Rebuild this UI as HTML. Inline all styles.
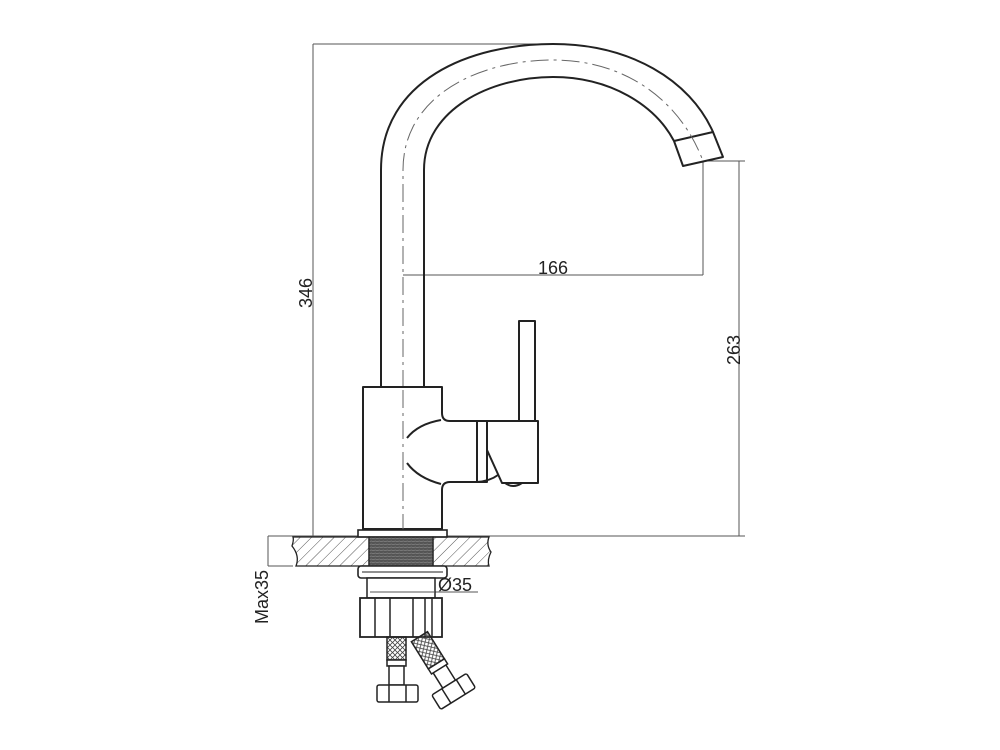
<!DOCTYPE html>
<html><head><meta charset="utf-8"><style>
html,body{margin:0;padding:0;background:#fff;}
svg{display:block;}
text{font-family:"Liberation Sans",Arial,sans-serif;fill:#222;}
</style></head><body>
<svg width="1000" height="750" viewBox="0 0 1000 750" xmlns="http://www.w3.org/2000/svg">
<defs>
<pattern id="hatch" width="8" height="8" patternUnits="userSpaceOnUse" patternTransform="rotate(45)">
<line x1="0" y1="0" x2="0" y2="8" stroke="#555" stroke-width="1"/>
</pattern>
<pattern id="braid" width="5" height="5" patternUnits="userSpaceOnUse">
<path d="M0,0 L2.5,2.5 L5,0 M0,5 L2.5,2.5 L5,5" stroke="#444" stroke-width="0.8" fill="none"/>
</pattern>
<pattern id="thread" width="4" height="3" patternUnits="userSpaceOnUse">
<rect width="4" height="3" fill="#555"/>
<line x1="0" y1="1.5" x2="4" y2="1" stroke="#999" stroke-width="0.6"/>
</pattern>
</defs>

<g stroke="#555" stroke-width="1" fill="none">
<line x1="313" y1="44" x2="553" y2="44"/>
<line x1="313" y1="44" x2="313" y2="536"/>
<line x1="268" y1="536" x2="745" y2="536"/>
<line x1="703" y1="161" x2="745" y2="161"/>
<line x1="739" y1="161" x2="739" y2="536"/>
<line x1="703" y1="161" x2="703" y2="275"/>
<line x1="403" y1="275" x2="703" y2="275"/>
<line x1="268" y1="536" x2="268" y2="566"/>
<line x1="268" y1="566" x2="293" y2="566"/>
<line x1="370" y1="592" x2="478" y2="592"/>
</g>
<text x="553" y="274" font-size="18" text-anchor="middle">166</text>
<text transform="translate(312,293) rotate(-90)" font-size="18" text-anchor="middle">346</text>
<text transform="translate(740,350) rotate(-90)" font-size="18" text-anchor="middle">263</text>
<text transform="translate(268,597) rotate(-90)" font-size="18" text-anchor="middle">Max35</text>
<text x="438" y="591" font-size="18">Ø35</text>

<g stroke="#222" stroke-width="2" fill="none" stroke-linejoin="round">
<path d="M381,388 L381,170 C381,80 470,44 553,44 C630,44 690,80 713,132"/>
<path d="M424,388 L424,170 C424,110 490,77 553,77 C610,77 655,105 674,141"/>
<path d="M674,141 L713,132 L723,157 L683,166 Z" fill="#fff"/>
</g>
<path d="M403,388 L403,170 C403,95 480,60 553,60 C625,60 680,100 703,161" stroke="#666" stroke-width="1" fill="none" stroke-dasharray="18,5,3,5"/>

<g stroke="#222" stroke-width="2" fill="#fff" stroke-linejoin="round">
<path d="M363,387 L442,387 L442,413 Q442,421 450,421 L477,421 L477,482 L450,482 Q442,482 442,490 L442,529 L363,529 Z"/>
<rect x="477" y="421" width="10" height="61"/>
<path d="M487,421 L538,421 L538,483 L502,483 L487,450 Z"/>
<rect x="519" y="321" width="16" height="100"/>
<path d="M505,483 Q513,489 522,483" fill="none"/>
<path d="M407,438 Q418,424 441,420" fill="none"/>
<path d="M407,463 Q418,478 441,484" fill="none"/>
<path d="M477,482 Q490,481 498,475" fill="none"/>
</g>
<line x1="403" y1="390" x2="403" y2="545" stroke="#666" stroke-width="1" stroke-dasharray="18,5,3,5"/>

<rect x="358" y="530" width="89" height="7" fill="#fff" stroke="#222" stroke-width="1.6"/>
<path d="M293,537 L369,537 L369,566 L296,566 Q300,556 292,546 Q294,540 293,537 Z" fill="url(#hatch)" stroke="#222" stroke-width="1.3"/>
<path d="M433,537 L489,537 Q486,545 491,552 Q487,560 489,566 L433,566 Z" fill="url(#hatch)" stroke="#222" stroke-width="1.3"/>
<rect x="369" y="537" width="64" height="29" fill="url(#thread)" stroke="#222" stroke-width="1.3"/>
<rect x="358" y="566" width="89" height="12" rx="3" fill="#fff" stroke="#222" stroke-width="1.6"/>
<line x1="362" y1="572" x2="443" y2="572" stroke="#222" stroke-width="1"/>
<rect x="367" y="578" width="68" height="20" fill="#fff" stroke="#222" stroke-width="1.5"/>
<line x1="370" y1="592" x2="435" y2="592" stroke="#555" stroke-width="1"/>
<rect x="360" y="598" width="82" height="39" fill="#fff" stroke="#222" stroke-width="1.8"/>
<g stroke="#222" stroke-width="1.5">
<line x1="375" y1="598" x2="375" y2="637"/>
<line x1="390" y1="598" x2="390" y2="637"/>
<line x1="413" y1="598" x2="413" y2="637"/>
<line x1="425" y1="598" x2="425" y2="637"/>
<line x1="432" y1="598" x2="432" y2="637"/>
</g>

<g stroke="#222" stroke-width="1.5" fill="#fff">
<rect x="387" y="637" width="19" height="23" fill="url(#braid)"/>
<rect x="387" y="660" width="19" height="6"/>
<rect x="389" y="666" width="15" height="19"/>
<rect x="377" y="685" width="41" height="17" rx="2"/>
<line x1="389" y1="685" x2="389" y2="702"/>
<line x1="406" y1="685" x2="406" y2="702"/>
</g>
<g transform="translate(419,637) rotate(-32)" stroke="#222" stroke-width="1.5" fill="#fff">
<rect x="-9" y="0" width="19" height="32" fill="url(#braid)"/>
<rect x="-9" y="32" width="19" height="6"/>
<rect x="-7" y="38" width="15" height="18"/>
<rect x="-20" y="56" width="41" height="17" rx="2"/>
<line x1="-8" y1="56" x2="-8" y2="73"/>
<line x1="9" y1="56" x2="9" y2="73"/>
</g>
</svg>
</body></html>
